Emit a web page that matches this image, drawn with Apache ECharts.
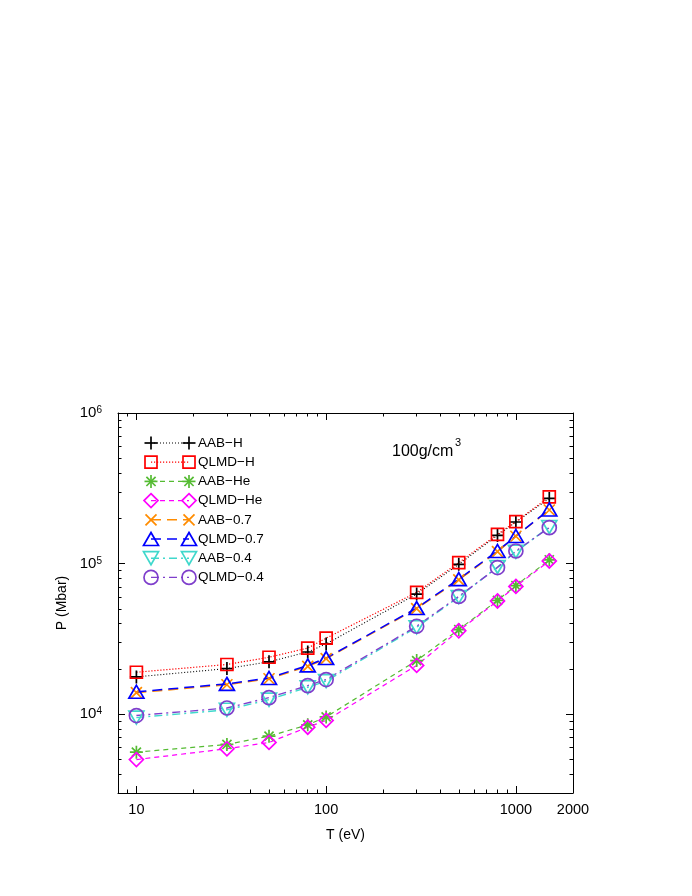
<!DOCTYPE html>
<html>
<head>
<meta charset="utf-8">
<script src="https://cdn.jsdelivr.net/npm/echarts@6/dist/echarts.min.js"></script>
<style>
  html, body { margin: 0; padding: 0; background: #fff; }
  #chart { width: 692px; height: 896px; }
</style>
</head>
<body>
<div id="chart"></div>
<script>
// temperature (eV)
const temps = [10, 30, 50, 80, 100, 300, 500, 800, 1000, 1500];
// pressure (Mbar)
const aabH   = [17700, 20100, 22300, 25900, 29300, 62800, 99000, 154000, 189000, 271000];
const qlmdH  = [19000, 21400, 23900, 27500, 32000, 64400, 101600, 156400, 190000, 277500];
const aabHe  = [5600, 6300, 7150, 8500, 9600, 22700, 36500, 57000, 71500, 106000];
const qlmdHe = [5000, 5900, 6500, 8200, 9100, 21100, 35800, 56500, 70600, 104200];
const aab07  = [13900, 15700, 17200, 20800, 23400, 50200, 78000, 120000, 152000, 227000];
const qlmd07 = [14100, 15900, 17400, 21100, 23600, 50700, 78900, 121300, 152500, 229000];
const aab04  = [9500, 10700, 12500, 15100, 16600, 37800, 60000, 95000, 120000, 175000];
const qlmd04 = [9800, 11000, 12900, 15500, 17000, 38400, 60600, 94200, 121300, 173300];

// axis ticks
const xMajor = [10, 100, 1000];
const xLabels = [10, 100, 1000, 2000];
const xMinor = [9, 20, 30, 40, 50, 60, 70, 80, 90, 200, 300, 400, 500, 600, 700, 800, 900];
const yMajor = [1e4, 1e5, 1e6];
const yMinor = [4000, 5000, 6000, 7000, 8000, 9000,
  2e4, 3e4, 4e4, 5e4, 6e4, 7e4, 8e4, 9e4,
  2e5, 3e5, 4e5, 5e5, 6e5, 7e5, 8e5, 9e5];

const FONT = '"Liberation Sans", Arial, sans-serif';

// gnuplot-like point shapes
const SYM = {
  plus: 'path://M0,5L10,5M5,0L5,10',
  square: 'path://M0,0L10,0L10,10L0,10Z',
  star: 'path://M0,5L10,5M5,0L5,10M1.5,1.5L8.5,8.5M1.5,8.5L8.5,1.5',
  diamond: 'path://M5,0L10,5L5,10L0,5Z',
  cross: 'path://M0,0L10,10M0,10L10,0',
  triUp: 'path://M5,0L10,8.66L0,8.66Z',
  triDown: 'path://M0,0L10,0L5,8.66Z',
  circle: 'path://M10,5A5,5,0,1,1,0,5A5,5,0,1,1,10,5Z'
};

const seriesDefs = [
  { name: 'AAB−H',     data: aabH,   color: '#000000', kind: 'plus',    size: 13,       dash: [1, 2],        width: 1.1 },
  { name: 'QLMD−H',    data: qlmdH,  color: '#ff0000', kind: 'square',  size: 12,       dash: [1.2, 1.8],    width: 1.2 },
  { name: 'AAB−He',    data: aabHe,  color: '#55bb33', kind: 'star',    size: 13,       dash: [5, 4],        width: 1.2 },
  { name: 'QLMD−He',   data: qlmdHe, color: '#ff00ff', kind: 'diamond', size: 14,       dash: [5, 4],        width: 1.2 },
  { name: 'AAB−0.7',   data: aab07,  color: '#ff8c00', kind: 'cross',   size: 11,       dash: [10, 6],       width: 1.5 },
  { name: 'QLMD−0.7',  data: qlmd07, color: '#0000ff', kind: 'triUp',   size: [15, 13], dash: [10, 6],       width: 1.5 },
  { name: 'AAB−0.4',   data: aab04,  color: '#40d8cc', kind: 'triDown', size: [15, 13], dash: [8, 4, 2, 4],  width: 1.4 },
  { name: 'QLMD−0.4',  data: qlmd04, color: '#7f3fcc', kind: 'circle',  size: 14,       dash: [8, 4, 2, 4],  width: 1.4 }
];

function makeSeries(d) {
  return {
    name: d.name,
    type: 'line',
    data: temps.map((t, i) => [t, d.data[i]]),
    symbol: SYM[d.kind],
    symbolSize: d.size,
    showAllSymbol: true,
    lineStyle: { color: d.color, width: d.width, type: d.dash },
    itemStyle: { color: 'rgba(0,0,0,0)', borderColor: d.color, borderWidth: 1.7, borderType: 'solid' },
    emphasis: { disabled: true },
    animation: false,
    z: 2
  };
}

// legend drawn by hand, gnuplot style (symbol at both ends of the line sample)
function legendSymbol(kind, cx, cy, color) {
  const st = { stroke: color, lineWidth: 1.7, fill: null };
  switch (kind) {
    case 'plus':
      return [
        { type: 'line', shape: { x1: cx - 6.5, y1: cy, x2: cx + 6.5, y2: cy }, style: st },
        { type: 'line', shape: { x1: cx, y1: cy - 6.5, x2: cx, y2: cy + 6.5 }, style: st }
      ];
    case 'square':
      return [{ type: 'rect', shape: { x: cx - 6, y: cy - 6, width: 12, height: 12 }, style: st }];
    case 'star':
      return [
        { type: 'line', shape: { x1: cx - 6.5, y1: cy, x2: cx + 6.5, y2: cy }, style: st },
        { type: 'line', shape: { x1: cx, y1: cy - 6.5, x2: cx, y2: cy + 6.5 }, style: st },
        { type: 'line', shape: { x1: cx - 4.6, y1: cy - 4.6, x2: cx + 4.6, y2: cy + 4.6 }, style: st },
        { type: 'line', shape: { x1: cx - 4.6, y1: cy + 4.6, x2: cx + 4.6, y2: cy - 4.6 }, style: st }
      ];
    case 'diamond':
      return [{ type: 'polygon', shape: { points: [[cx, cy - 7], [cx + 7, cy], [cx, cy + 7], [cx - 7, cy]] }, style: st }];
    case 'cross':
      return [
        { type: 'line', shape: { x1: cx - 5.5, y1: cy - 5.5, x2: cx + 5.5, y2: cy + 5.5 }, style: st },
        { type: 'line', shape: { x1: cx - 5.5, y1: cy + 5.5, x2: cx + 5.5, y2: cy - 5.5 }, style: st }
      ];
    case 'triUp':
      return [{ type: 'polygon', shape: { points: [[cx, cy - 6.5], [cx + 7.5, cy + 6.5], [cx - 7.5, cy + 6.5]] }, style: st }];
    case 'triDown':
      return [{ type: 'polygon', shape: { points: [[cx - 7.5, cy - 6.5], [cx + 7.5, cy - 6.5], [cx, cy + 6.5]] }, style: st }];
    default:
      return [{ type: 'circle', shape: { cx: cx, cy: cy, r: 7 }, style: st }];
  }
}

const legendEls = [];
seriesDefs.forEach((d, i) => {
  const cy = 443 + i * 19.2;
  legendEls.push({ type: 'line', shape: { x1: 151, y1: cy, x2: 189, y2: cy },
    style: { stroke: d.color, lineWidth: d.width, lineDash: d.dash } });
  legendEls.push(...legendSymbol(d.kind, 151, cy, d.color));
  legendEls.push(...legendSymbol(d.kind, 189, cy, d.color));
  legendEls.push({ type: 'text', x: 198, y: cy,
    style: { text: d.name, fontSize: 13.5, fontFamily: FONT, fill: '#000', verticalAlign: 'middle', align: 'left' } });
});
// density annotation with a raised exponent
legendEls.push({ type: 'text', x: 392, y: 452,
  style: { text: '100g/cm', fontSize: 16, fontFamily: FONT, fill: '#000', verticalAlign: 'middle', align: 'left' } });
legendEls.push({ type: 'text', x: 455, y: 443,
  style: { text: '3', fontSize: 11, fontFamily: FONT, fill: '#000', verticalAlign: 'middle', align: 'left' } });

function supLabel(v) {
  return '{b|10}{s|' + Math.round(Math.log10(v)) + '}';
}

const tickLine = { color: '#000', width: 1 };
const baseAxis = {
  type: 'log', logBase: 10,
  splitLine: { show: false },
  minorTick: { show: false },
  minorSplitLine: { show: false }
};

const xAxes = [
  Object.assign({}, baseAxis, {
    min: 8, max: 2000, position: 'bottom',
    axisLine: { show: true, lineStyle: tickLine },
    axisTick: { show: true, inside: true, length: 7, customValues: xMajor, lineStyle: tickLine },
    axisLabel: { customValues: xLabels, formatter: v => String(Math.round(v)), margin: 9,
      fontSize: 14.5, fontFamily: FONT, color: '#000' },
    name: 'T (eV)', nameLocation: 'middle', nameGap: 35,
    nameTextStyle: { fontSize: 14, fontFamily: FONT, color: '#000' }
  }),
  Object.assign({}, baseAxis, {
    min: 8, max: 2000, position: 'bottom',
    axisLine: { show: false },
    axisTick: { show: true, inside: true, length: 3.5, customValues: xMinor, lineStyle: tickLine },
    axisLabel: { show: false }
  }),
  Object.assign({}, baseAxis, {
    min: 8, max: 2000, position: 'top',
    axisLine: { show: true, lineStyle: tickLine },
    axisTick: { show: true, inside: true, length: 7, customValues: xMajor, lineStyle: tickLine },
    axisLabel: { show: false }
  }),
  Object.assign({}, baseAxis, {
    min: 8, max: 2000, position: 'top',
    axisLine: { show: false },
    axisTick: { show: true, inside: true, length: 3.5, customValues: xMinor, lineStyle: tickLine },
    axisLabel: { show: false }
  })
];

const yAxes = [
  Object.assign({}, baseAxis, {
    min: 3000, max: 1e6, position: 'left',
    axisLine: { show: true, lineStyle: tickLine },
    axisTick: { show: true, inside: true, length: 7, customValues: yMajor, lineStyle: tickLine },
    axisLabel: { customValues: yMajor, formatter: supLabel, margin: 16,
      rich: {
        b: { fontSize: 15, fontFamily: FONT, color: '#000' },
        s: { fontSize: 10, fontFamily: FONT, color: '#000', verticalAlign: 'top' }
      } },
    name: 'P (Mbar)', nameLocation: 'middle', nameGap: 42,
    nameTextStyle: { fontSize: 14, fontFamily: FONT, color: '#000' }
  }),
  Object.assign({}, baseAxis, {
    min: 3000, max: 1e6, position: 'left',
    axisLine: { show: false },
    axisTick: { show: true, inside: true, length: 3.5, customValues: yMinor, lineStyle: tickLine },
    axisLabel: { show: false }
  }),
  Object.assign({}, baseAxis, {
    min: 3000, max: 1e6, position: 'right',
    axisLine: { show: true, lineStyle: tickLine },
    axisTick: { show: true, inside: true, length: 7, customValues: yMajor, lineStyle: tickLine },
    axisLabel: { show: false }
  }),
  Object.assign({}, baseAxis, {
    min: 3000, max: 1e6, position: 'right',
    axisLine: { show: false },
    axisTick: { show: true, inside: true, length: 3.5, customValues: yMinor, lineStyle: tickLine },
    axisLabel: { show: false }
  })
];

const chart = echarts.init(document.getElementById('chart'), null, { renderer: 'canvas' });
chart.setOption({
  backgroundColor: '#fff',
  animation: false,
  grid: { left: 118, right: 119, top: 413, bottom: 103, containLabel: false },
  xAxis: xAxes,
  yAxis: yAxes,
  graphic: { elements: legendEls },
  series: seriesDefs.map(makeSeries)
});
</script>
</body>
</html>
